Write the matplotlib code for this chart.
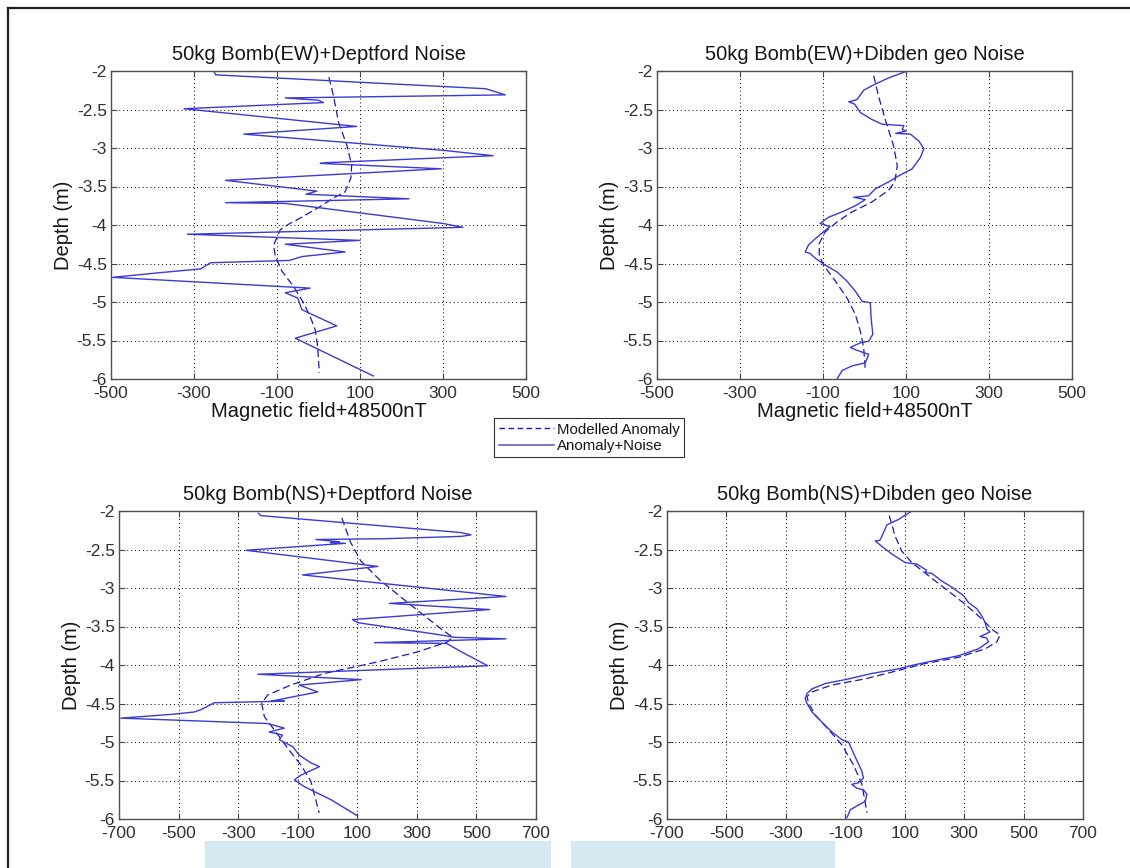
import matplotlib
matplotlib.use("Agg")
import matplotlib.pyplot as plt
from matplotlib.lines import Line2D
from matplotlib.patches import Rectangle

plt.rcParams['font.family'] = ['Liberation Sans', 'DejaVu Sans']

# ---------------- data ----------------
# Panel 1: 50kg Bomb(EW)+Deptford Noise
ew_dept_noisy_field = [-252, -248, 403, 450, -80, 0, 12, -324, 92, -180, 300, 421, 20, 4, 296,
                       -224, -4, -30, 218, -224, -80, 300, 348, -316, 100, -80, 64, -40, -70,
                       -260, -284, -384, -496, -20, -80, -50, -40, 44, -12, -56, 132]
ew_dept_noisy_depth = [-2.00, -2.05, -2.23, -2.31, -2.35, -2.38, -2.41, -2.49, -2.72, -2.82, -3.03, -3.10,
                       -3.19, -3.20, -3.27, -3.42, -3.56, -3.60, -3.66, -3.71, -3.72, -3.98, -4.03, -4.12,
                       -4.20, -4.25, -4.35, -4.41, -4.46, -4.49, -4.57, -4.62, -4.68, -4.82, -4.88, -4.95,
                       -5.10, -5.31, -5.40, -5.47, -5.96]
ew_dept_model_field = [25, 36, 48, 68, 80, 78, 64, 36, 4, -44, -72, -92, -108, -104, -88, -60, -36, -20, -8, -2, 2]
ew_dept_model_depth = [-2.08, -2.32, -2.66, -2.96, -3.22, -3.39, -3.57, -3.65, -3.76, -3.91, -3.99, -4.06,
                       -4.26, -4.41, -4.60, -4.80, -5.01, -5.19, -5.36, -5.58, -5.92]

# Panel 2: 50kg Bomb(EW)+Dibden geo Noise
ew_dib_noisy_field = [103, 58, 22, -2, -18, -30, -38, -24, -10, 18, 42, 95, 91, 100, 75, 111, 131, 143, 135,
                      123, 115, 83, 58, 26, 10, -26, 2, -22, -54, -87, -107, -95, -83, -99, -119, -135, -143,
                      -131, -119, -95, -66, -42, -22, -6, 14, 16, 20, 10, -10, -34, -22, 10, 2, -30, -54, -66]
ew_dib_noisy_depth = [-2.00, -2.09, -2.18, -2.25, -2.37, -2.39, -2.40, -2.43, -2.54, -2.63, -2.69, -2.71,
                      -2.76, -2.78, -2.81, -2.82, -2.91, -3.01, -3.12, -3.21, -3.27, -3.36, -3.44, -3.53,
                      -3.62, -3.64, -3.67, -3.75, -3.83, -3.90, -3.98, -4.00, -4.02, -4.09, -4.18, -4.26,
                      -4.35, -4.37, -4.43, -4.52, -4.61, -4.73, -4.86, -4.99, -5.01, -5.21, -5.42, -5.51,
                      -5.53, -5.59, -5.62, -5.68, -5.79, -5.83, -5.89, -6.00]
ew_dib_model_field = [22, 34, 50, 70, 79, 73, 58, 18, -30, -66, -95, -109, -109, -99, -70, -42, -22, -10, -2, 2]
ew_dib_model_depth = [-2.06, -2.33, -2.63, -2.97, -3.23, -3.44, -3.55, -3.70, -3.83, -3.96, -4.09, -4.24,
                      -4.39, -4.52, -4.73, -4.95, -5.16, -5.38, -5.59, -5.89]

# Panel 3: 50kg Bomb(NS)+Deptford Noise
ns_dept_noisy_field = [-232, -224, 448, 482, 448, 191, -39, 40, 10, 60, -274, 169, -84, 599, 208, 544, 84,
                       101, 364, 426, 599, 158, 400, 450, 538, -234, 113, -95, -33, -190, -145, -380, -425,
                       -447, -520, -694, -201, -145, -196, -151, -162, -117, -95, -56, -27, -61, -89, -111,
                       -78, 12, 101]
ns_dept_noisy_depth = [-2.03, -2.06, -2.28, -2.31, -2.33, -2.36, -2.37, -2.40, -2.41, -2.42, -2.51, -2.72,
                       -2.83, -3.11, -3.20, -3.28, -3.41, -3.45, -3.60, -3.64, -3.66, -3.71, -3.72, -3.83,
                       -4.01, -4.12, -4.19, -4.26, -4.35, -4.47, -4.47, -4.49, -4.58, -4.61, -4.64, -4.69,
                       -4.76, -4.82, -4.87, -4.91, -4.97, -5.06, -5.17, -5.27, -5.32, -5.38, -5.43, -5.49,
                       -5.58, -5.75, -5.96]
ns_dept_model_field = [48, 78, 112, 174, 247, 325, 381, 420, 403, 302, 168, -11, -123, -201, -221, -212,
                       -179, -134, -89, -56, -28]
ns_dept_model_depth = [-2.09, -2.41, -2.65, -2.89, -3.12, -3.36, -3.53, -3.64, -3.70, -3.83, -3.96, -4.11,
                       -4.26, -4.39, -4.50, -4.67, -4.84, -5.08, -5.30, -5.51, -5.92]

# Panel 4: 50kg Bomb(NS)+Dibden geo Noise
ns_dib_noisy_field = [124, 79, 40, 23, 17, 1, 23, 57, 102, 141, 174, 168, 191, 225, 259, 298, 315, 343, 359,
                      371, 376, 387, 371, 354, 376, 382, 348, 281, 191, 130, 79, -11, -100, -167, -212, -229,
                      -235, -229, -212, -179, -145, -111, -89, -67, -44, -39, -56, -78, -61, -39, -27, -33,
                      -61, -83, -94]
ns_dib_noisy_depth = [-2.00, -2.11, -2.18, -2.33, -2.38, -2.39, -2.46, -2.56, -2.67, -2.69, -2.77, -2.80,
                      -2.81, -2.91, -2.99, -3.10, -3.19, -3.27, -3.36, -3.45, -3.53, -3.57, -3.60, -3.63,
                      -3.65, -3.70, -3.79, -3.88, -3.95, -4.00, -4.05, -4.11, -4.19, -4.24, -4.31, -4.37,
                      -4.44, -4.50, -4.61, -4.74, -4.87, -4.97, -5.00, -5.19, -5.38, -5.47, -5.53, -5.55,
                      -5.60, -5.62, -5.68, -5.77, -5.83, -5.88, -5.98]
ns_dib_model_field = [48, 68, 90, 124, 180, 247, 303, 359, 398, 421, 410, 371, 281, 169, 79, -33, -145,
                      -212, -229, -223, -201, -156, -111, -72, -44, -27]
ns_dib_model_depth = [-2.06, -2.33, -2.52, -2.67, -2.84, -3.04, -3.21, -3.40, -3.55, -3.61, -3.70, -3.79,
                      -3.90, -3.98, -4.07, -4.18, -4.26, -4.35, -4.41, -4.50, -4.65, -4.84, -5.04, -5.30,
                      -5.55, -5.92]

titles = ["50kg Bomb(EW)+Deptford Noise", "50kg Bomb(EW)+Dibden geo Noise",
          "50kg Bomb(NS)+Deptford Noise", "50kg Bomb(NS)+Dibden geo Noise"]
ticks_top = [-500, -300, -100, 100, 300, 500]
ticks_bottom = [-700, -500, -300, -100, 100, 300, 500, 700]
yticks = [-6, -5.5, -5, -4.5, -4, -3.5, -3, -2.5, -2]
ytick_labels = ["-6", "-5.5", "-5", "-4.5", "-4", "-3.5", "-3", "-2.5", "-2"]
xlabel_text = "Magnetic field+48500nT"
ylabel_text = "Depth (m)"
legend_labels = ["Modelled Anomaly", "Anomaly+Noise"]

# ---------------- figure ----------------
W, H = 1130, 868
fig = plt.figure(figsize=(W / 100, H / 100), dpi=100)
fig.patch.set_facecolor("white")

def fx(px):
    return px / W

def fy(py):
    return 1 - py / H

boxes = [(111, 526, 71, 379), (657, 1072, 71, 379), (119, 536, 511, 819), (667, 1083, 511, 819)]
panels = [
    (ew_dept_noisy_field, ew_dept_noisy_depth, ew_dept_model_field, ew_dept_model_depth, ticks_top, True),
    (ew_dib_noisy_field, ew_dib_noisy_depth, ew_dib_model_field, ew_dib_model_depth, ticks_top, True),
    (ns_dept_noisy_field, ns_dept_noisy_depth, ns_dept_model_field, ns_dept_model_depth, ticks_bottom, False),
    (ns_dib_noisy_field, ns_dib_noisy_depth, ns_dib_model_field, ns_dib_model_depth, ticks_bottom, False),
]

noisy_color = "#3a3ad4"
model_color = "#1818c0"
txt_color = "#151515"

for (x0, x1, y0, y1), title, (nf, nd, mf, md, xt, has_xlabel) in zip(boxes, titles, panels):
    ax = fig.add_axes([fx(x0), fy(y1), fx(x1) - fx(x0), fy(y0) - fy(y1)])
    ax.plot(mf, md, linestyle=(0, (6, 3)), color=model_color, lw=0.9)
    ax.plot(nf, nd, linestyle="-", color=noisy_color, lw=1.0)
    ax.set_xlim(xt[0], xt[-1])
    ax.set_ylim(-6, -2)
    ax.set_xticks(xt)
    ax.set_xticklabels([str(v) for v in xt])
    ax.set_yticks(yticks)
    ax.set_yticklabels(ytick_labels)
    ax.grid(True, linestyle=(0, (1, 3)), color="black", lw=0.7)
    ax.tick_params(direction="in", top=True, right=True, length=4, width=0.8, color="#404040",
                   labelsize=12.5, labelcolor="#303030")
    ax.tick_params(axis="x", pad=5)
    ax.tick_params(axis="y", pad=3)
    for sp in ax.spines.values():
        sp.set_color("#505050")
        sp.set_linewidth(1.0)
    ax.set_title(title, fontsize=14.5, color=txt_color, pad=8)
    ax.set_ylabel(ylabel_text, fontsize=14.5, color=txt_color, labelpad=3)
    if has_xlabel:
        ax.set_xlabel(xlabel_text, fontsize=14.5, color=txt_color, labelpad=1)

# legend
handles = [Line2D([], [], linestyle=(0, (4, 2.5)), color=model_color, lw=1.0),
           Line2D([], [], linestyle="-", color="#6060c8", lw=1.2)]
leg = fig.legend(handles, legend_labels, loc="upper left",
                 bbox_to_anchor=(fx(494), fy(418)), frameon=True, fancybox=False,
                 fontsize=10.8, handlelength=3.7, handletextpad=0.2, borderpad=0.3,
                 labelspacing=0.15, borderaxespad=0)
leg.get_frame().set_edgecolor("black")
leg.get_frame().set_linewidth(0.8)
for t in leg.get_texts():
    t.set_color(txt_color)

# outer frame lines (top and left)
fig.add_artist(Line2D([fx(8), 1.0], [fy(8), fy(8)], color="#202020", lw=1.6))
fig.add_artist(Line2D([fx(8), fx(8)], [fy(8), 0.0], color="#202020", lw=1.6))

# light blue strips at the bottom
fig.add_artist(Rectangle((fx(205), 0), fx(551) - fx(205), fy(841), color="#d6e9f3", lw=0))
fig.add_artist(Rectangle((fx(571), 0), fx(835) - fx(571), fy(841), color="#d6e9f3", lw=0))

fig.savefig("out.png", dpi=100)
